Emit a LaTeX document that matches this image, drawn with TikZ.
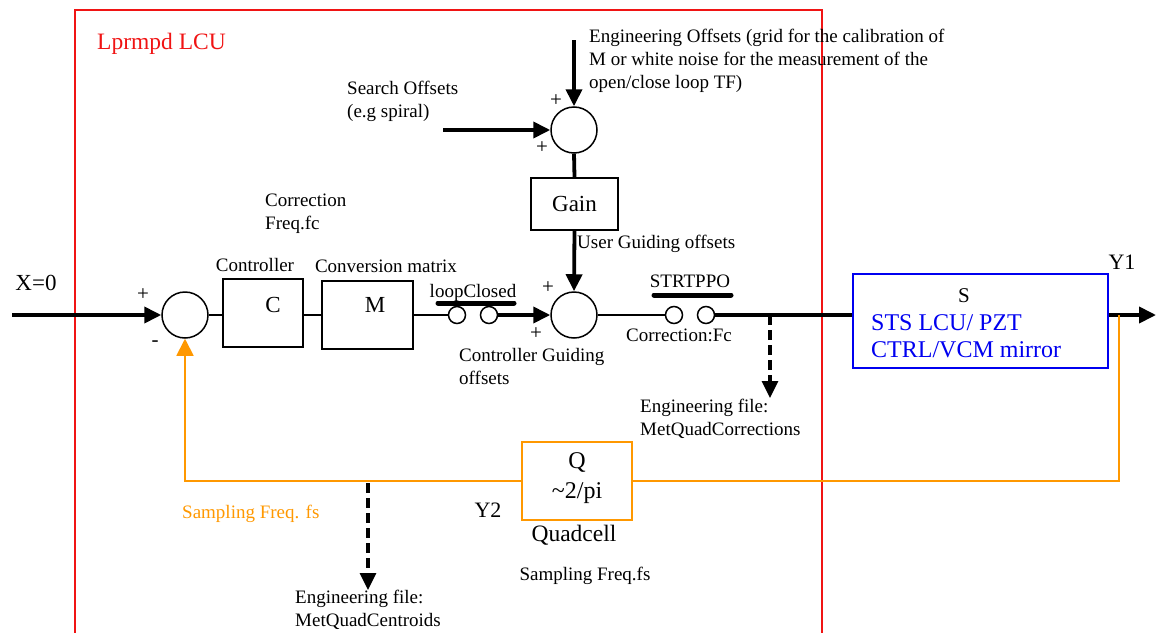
\documentclass[tikz,border=0pt]{standalone}
\usepackage{fontspec}
\setmainfont{Liberation Serif}
\usetikzlibrary{arrows.meta}
\definecolor{lcured}{RGB}{240,20,20}
\definecolor{sblue}{RGB}{0,0,240}
\definecolor{qorange}{RGB}{255,152,0}
\begin{document}
\begin{tikzpicture}[x=1pt,y=-1pt,
  lbl/.style={font=\fontsize{19}{23}\selectfont, inner sep=0pt, align=left},
  pm/.style={font=\fontsize{21}{23}\selectfont, inner sep=0pt},
  big/.style={font=\fontsize{23}{26}\selectfont, inner sep=0pt},
  sumc/.style={circle,draw,line width=1.5pt,minimum size=46pt,inner sep=0pt},
  swc/.style={circle,draw,line width=1.5pt,minimum size=17pt,inner sep=0pt},
  blk/.style={draw,line width=1.5pt,inner sep=0pt},
  thk/.style={line width=3.8pt},
  thn/.style={line width=1.5pt},
  bar/.style={line width=5pt,line cap=round},
  tip/.style={-{Triangle[length=17pt,width=16pt]}},
  dsh/.style={line width=3.2pt,dash pattern=on 10pt off 5pt},
  feedback/.style={draw=qorange,line width=1.8pt},
]
\useasboundingbox (0,0) rectangle (1156,632);
% red frame
\draw[lcured,line width=1.6pt] (75,640) -- (75,10) -- (822,10) -- (822,640);
\node[anchor=west,text=lcured,font=\fontsize{23.5}{26}\selectfont,inner sep=0pt] (lcu) at (97,44) {Lprmpd LCU};

% summing junctions
\node[sumc] (s1) at (185,315) {};
\node[sumc] (s2) at (574,315) {};
\node[sumc] (s3) at (574,130) {};

% blocks
\node[blk,minimum width=80pt,minimum height=68pt] (C) at (263,313) {};
\node[big] (Ct) at (273,305) {C};
\node[blk,minimum width=91pt,minimum height=68pt] (M) at (367.5,315) {};
\node[big] (Mt) at (375,305) {M};
\node[blk,minimum width=87pt,minimum height=52pt,font=\fontsize{23}{26}\selectfont] (gain) at (574.5,204) {Gain};
\node[draw=sblue,line width=1.7pt,minimum width=255pt,minimum height=94pt,inner sep=0pt] (S) at (980.5,321) {};
\node[font=\fontsize{21}{22}\selectfont,inner sep=0pt] (St) at (964,296) {S};
\node[anchor=west,text=sblue,font=\fontsize{24}{27}\selectfont,inner sep=0pt,align=left] (Sdesc) at (871,336.5) {STS LCU/ PZT\\CTRL/VCM mirror};
\node[draw=qorange,line width=1.8pt,minimum width=110pt,minimum height=78pt,inner sep=0pt] (Q) at (577,481) {};
\node[font=\fontsize{24}{30}\selectfont,inner sep=0pt,align=center] (Qt) at (577,478) {Q\\\textasciitilde2/pi};

% switches
\node[swc] (sw1) at (457,315) {};
\node[swc] (sw2) at (489,315) {};
\node[swc] (sw3) at (674,315) {};
\node[swc] (sw4) at (706,315) {};
\draw[bar] (438,303) -- (514,303);
\draw[bar] (654,295) -- (731,295);

% coordinates
\coordinate (xin) at (12,315);
\coordinate (eo) at (574,40);
\coordinate (so) at (443,130);
\coordinate (d1) at (770,315);
\coordinate (d1e) at (770,398);
\coordinate (y1) at (1119,315);
\coordinate (out) at (1156,315);
\coordinate (d2) at (368,483);
\coordinate (d2e) at (368,590);

% connectors
\draw[thk,tip] (xin) -- (s1.west);
\draw[thn] (s1.east) -- (s1.east -| C.west);
\draw[thn] (C.east |- M.west) -- (M.west);
\draw[thn] (M.east) -- (sw1.west);
\draw[thk,tip] (sw2.east) -- (s2.west);
\draw[thk,tip] (eo) -- (s3.north);
\draw[thk,tip] (so) -- (s3.west);
\draw[thk] (s3.south) -- (gain.north);
\draw[thk,tip] (gain.south) -- (s2.north);
\draw[thn] (s2.east) -- (sw3.west);
\draw[thk] (sw4.east) -- (sw4.east -| S.west);
\draw[thk,tip] (S.east |- out) -- (out);
\draw[dsh,tip] (d1) -- (d1e);
\draw[feedback] (y1) |- (Q.east);
\draw[feedback,-{Triangle[length=17pt,width=17pt,fill=qorange]}] (Q.west) -| (s1.south);
\draw[dsh,tip] (d2) -- (d2e);

% labels
\node[font=\fontsize{23}{24}\selectfont,inner sep=0pt] (x0) at (36,283) {X=0};
\node[pm] (p1) at (143,295) {+};
\node[pm] (m1) at (155,344) {-};
\node[lbl] (ctl) at (255,265) {Controller};
\node[lbl] (cm) at (386,266) {Conversion matrix};
\node[lbl,anchor=west] (cf) at (265,214) {Correction\\Freq.fc};
\node[lbl] (lc) at (473,293) {loopClosed};
\node[pm] (p2) at (548,288) {+};
\node[pm] (p3) at (536,334) {+};
\node[lbl,anchor=west] (cgo) at (459,366.5) {Controller Guiding\\offsets};
\node[lbl] (strt) at (690,281) {STRTPPO};
\node[lbl] (cfc) at (679,335) {Correction:Fc};
\node[lbl,anchor=west] (efc) at (640,418.5) {Engineering file:\\MetQuadCorrections};
\node[font=\fontsize{22}{24}\selectfont,inner sep=0pt] (y1t) at (1122,262) {Y1};
\node[lbl,anchor=west] (srch) at (347,101.5) {Search Offsets\\(e.g spiral)};
\node[lbl,anchor=west] (eng) at (589,61) {Engineering Offsets (grid for the calibration of\\M or white noise for the measurement of the\\open/close loop TF)};
\node[pm] (p4) at (556,101) {+};
\node[pm] (p5) at (542,148) {+};
\node[lbl,anchor=west] (ugo) at (577,244) {User Guiding offsets};
\node[lbl,anchor=west,text=qorange] (sfo) at (182,514) {Sampling Freq. fs};
\node[font=\fontsize{22}{24}\selectfont,inner sep=0pt] (y2t) at (488,510) {Y2};
\node[font=\fontsize{23.5}{24}\selectfont,inner sep=0pt] (qc) at (574,535) {Quadcell};
\node[lbl] (sfs) at (585,576) {Sampling Freq.fs};
\node[lbl,anchor=west] (efq) at (295,609.5) {Engineering file:\\MetQuadCentroids};
\end{tikzpicture}
\end{document}
